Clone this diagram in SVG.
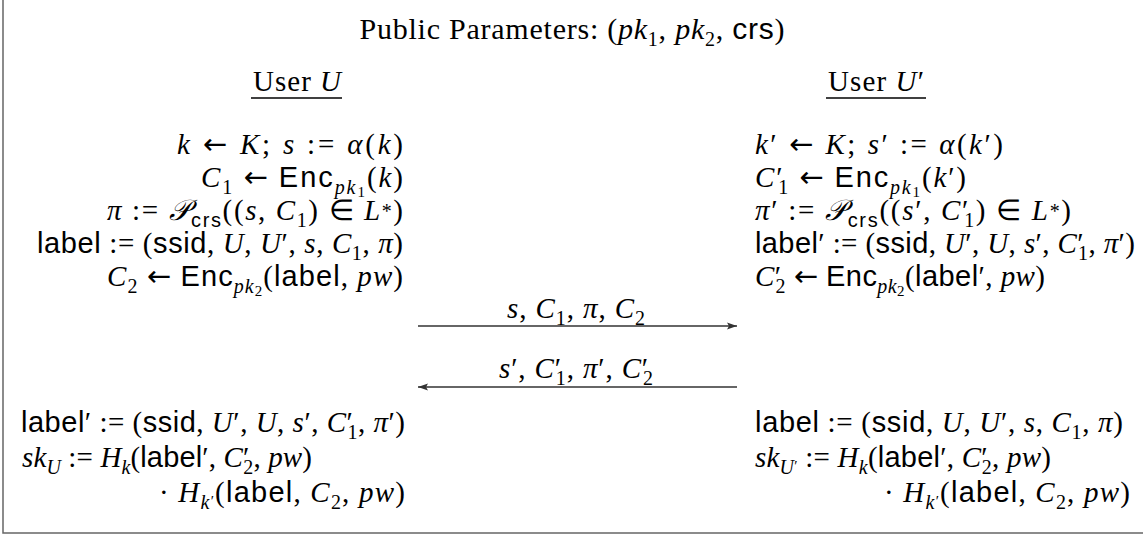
<svg xmlns="http://www.w3.org/2000/svg" width="1143" height="536" viewBox="0 0 1143 536">
<style>
.t{font-family:"Liberation Serif",serif;font-size:29px;fill:#000}
.i{font-style:italic}
.sf{font-family:"Liberation Sans",sans-serif;font-style:normal}
.ar{font-family:"DejaVu Sans",sans-serif;font-style:normal}
.sb{font-size:20px}
.ss{font-size:15px}
.frame{fill:none;stroke:#666;stroke-width:1.5}
.arr{stroke:#333;stroke-width:1.3;fill:none}
.ul{stroke:#000;stroke-width:1.3}
</style>
<defs>
<marker id="ah" viewBox="0 0 10 10" refX="10" refY="5" markerWidth="10" markerHeight="10" markerUnits="userSpaceOnUse" orient="auto-start-reverse"><path d="M0,1.5 L10,5 L0,8.5 L2,5 Z" fill="#333"/></marker>
</defs>
<path class="frame" d="M3,0 V533 H1143"/>
<g id="title"><text class="t" x="572" y="39" text-anchor="middle" style="font-size:30px" textLength="425" lengthAdjust="spacing">Public Parameters: (<tspan class="i">pk</tspan><tspan class="sb" dy="7">1</tspan><tspan dy="-7">, </tspan><tspan class="i">pk</tspan><tspan class="sb" dy="7">2</tspan><tspan dy="-7">, </tspan><tspan class="sf">crs</tspan>)</text></g>
<g id="userU"><text class="t" x="297" y="91" text-anchor="middle" textLength="88" lengthAdjust="spacing">User <tspan class="i">U</tspan></text><line class="ul" x1="251" y1="98" x2="342" y2="98"/></g>
<g id="userU2"><text class="t" x="876" y="91" text-anchor="middle" textLength="96" lengthAdjust="spacing">User <tspan class="i">U</tspan>′</text><line class="ul" x1="826" y1="98" x2="926" y2="98"/></g>
<g id="left-top">
<text class="t" x="403" y="154" text-anchor="end" textLength="226" lengthAdjust="spacing"><tspan class="i">k</tspan> <tspan class="ar">←</tspan> <tspan class="i">K</tspan>; <tspan class="i">s</tspan> := <tspan class="i">α</tspan>(<tspan class="i">k</tspan>)</text>
<text class="t" x="403" y="187" text-anchor="end" textLength="202" lengthAdjust="spacing"><tspan class="i">C</tspan><tspan class="sb" dy="7">1</tspan><tspan dy="-7"> </tspan><tspan class="ar">←</tspan> <tspan class="sf">Enc</tspan><tspan class="sb i" dy="7">pk</tspan><tspan class="ss" dy="3">1</tspan><tspan dy="-10">(</tspan><tspan class="i">k</tspan>)</text>
<text class="t" x="403" y="220" text-anchor="end" textLength="296" lengthAdjust="spacing"><tspan class="i">π</tspan> := <tspan class="i">𝒫</tspan><tspan class="sb sf" dy="7">crs</tspan><tspan dy="-7">((</tspan><tspan class="i">s</tspan>, <tspan class="i">C</tspan><tspan class="sb" dy="7">1</tspan><tspan dy="-7">) ∈ </tspan><tspan class="i">L</tspan><tspan class="sb" dy="-2">*</tspan><tspan dy="2">)</tspan></text>
<text class="t" x="403" y="253" text-anchor="end" textLength="366" lengthAdjust="spacing"><tspan class="sf">label</tspan> := (<tspan class="sf">ssid</tspan>, <tspan class="i">U</tspan>, <tspan class="i">U</tspan>′, <tspan class="i">s</tspan>, <tspan class="i">C</tspan><tspan class="sb" dy="7">1</tspan><tspan dy="-7">, </tspan><tspan class="i">π</tspan>)</text>
<text class="t" x="403" y="286" text-anchor="end" textLength="296" lengthAdjust="spacing"><tspan class="i">C</tspan><tspan class="sb" dy="7">2</tspan><tspan dy="-7"> </tspan><tspan class="ar">←</tspan> <tspan class="sf">Enc</tspan><tspan class="sb i" dy="7">pk</tspan><tspan class="ss" dy="3">2</tspan><tspan dy="-10">(</tspan><tspan class="sf">label</tspan>, <tspan class="i">pw</tspan>)</text>
</g>
<g id="right-top">
<text class="t" x="755" y="154" textLength="248" lengthAdjust="spacing"><tspan class="i">k</tspan>′ <tspan class="ar">←</tspan> <tspan class="i">K</tspan>; <tspan class="i">s</tspan>′ := <tspan class="i">α</tspan>(<tspan class="i">k</tspan>′)</text>
<text class="t" x="755" y="187" textLength="211" lengthAdjust="spacing"><tspan class="i">C</tspan>′<tspan class="sb" dx="-6" dy="7">1</tspan><tspan dy="-7"> </tspan><tspan class="ar">←</tspan> <tspan class="sf">Enc</tspan><tspan class="sb i" dy="7">pk</tspan><tspan class="ss" dy="3">1</tspan><tspan dy="-10">(</tspan><tspan class="i">k</tspan>′)</text>
<text class="t" x="755" y="220" textLength="316" lengthAdjust="spacing"><tspan class="i">π</tspan>′ := <tspan class="i">𝒫</tspan><tspan class="sb sf" dy="7">crs</tspan><tspan dy="-7">((</tspan><tspan class="i">s</tspan>′, <tspan class="i">C</tspan>′<tspan class="sb" dx="-6" dy="7">1</tspan><tspan dy="-7">) ∈ </tspan><tspan class="i">L</tspan><tspan class="sb" dy="-2">*</tspan><tspan dy="2">)</tspan></text>
<text class="t" x="755" y="253" textLength="380" lengthAdjust="spacing"><tspan class="sf">label</tspan>′ := (<tspan class="sf">ssid</tspan>, <tspan class="i">U</tspan>′, <tspan class="i">U</tspan>, <tspan class="i">s</tspan>′, <tspan class="i">C</tspan>′<tspan class="sb" dx="-6" dy="7">1</tspan><tspan dy="-7">, </tspan><tspan class="i">π</tspan>′)</text>
<text class="t" x="755" y="286" textLength="290" lengthAdjust="spacing"><tspan class="i">C</tspan>′<tspan class="sb" dx="-6" dy="7">2</tspan><tspan dy="-7"> </tspan><tspan class="ar">←</tspan> <tspan class="sf">Enc</tspan><tspan class="sb i" dy="7">pk</tspan><tspan class="ss" dy="3">2</tspan><tspan dy="-10">(</tspan><tspan class="sf">label</tspan>′, <tspan class="i">pw</tspan>)</text>
</g>
<g id="connectors">
<line class="arr" x1="418" y1="326" x2="737" y2="326" marker-end="url(#ah)"/>
<text class="t" x="576" y="318" text-anchor="middle" textLength="138" lengthAdjust="spacing"><tspan class="i">s</tspan>, <tspan class="i">C</tspan><tspan class="sb" dy="7">1</tspan><tspan dy="-7">, </tspan><tspan class="i">π</tspan>, <tspan class="i">C</tspan><tspan class="sb" dy="7">2</tspan></text>
<line class="arr" x1="737" y1="387" x2="418" y2="387" marker-end="url(#ah)"/>
<text class="t" x="576" y="378" text-anchor="middle" textLength="154" lengthAdjust="spacing"><tspan class="i">s</tspan>′, <tspan class="i">C</tspan>′<tspan class="sb" dx="-6" dy="7">1</tspan><tspan dy="-7">, </tspan><tspan class="i">π</tspan>′, <tspan class="i">C</tspan>′<tspan class="sb" dx="-6" dy="7">2</tspan></text>
</g>
<g id="left-bottom">
<text class="t" x="405" y="432" text-anchor="end" textLength="384" lengthAdjust="spacing"><tspan class="sf">label</tspan>′ := (<tspan class="sf">ssid</tspan>, <tspan class="i">U</tspan>′, <tspan class="i">U</tspan>, <tspan class="i">s</tspan>′, <tspan class="i">C</tspan>′<tspan class="sb" dx="-6" dy="7">1</tspan><tspan dy="-7">, </tspan><tspan class="i">π</tspan>′)</text>
<text class="t" x="22" y="467" textLength="290" lengthAdjust="spacing"><tspan class="i">sk</tspan><tspan class="sb i" dy="7">U</tspan><tspan dy="-7"> := </tspan><tspan class="i">H</tspan><tspan class="sb i" dy="7">k</tspan><tspan dy="-7">(</tspan><tspan class="sf">label</tspan>′, <tspan class="i">C</tspan>′<tspan class="sb" dx="-6" dy="7">2</tspan><tspan dy="-7">, </tspan><tspan class="i">pw</tspan>)</text>
<text class="t" x="405" y="502" text-anchor="end" textLength="246" lengthAdjust="spacing">· <tspan class="i">H</tspan><tspan class="sb i" dy="7">k</tspan><tspan class="ss" dy="-3">′</tspan><tspan dy="-4">(</tspan><tspan class="sf">label</tspan>, <tspan class="i">C</tspan><tspan class="sb" dy="7">2</tspan><tspan dy="-7">, </tspan><tspan class="i">pw</tspan>)</text>
</g>
<g id="right-bottom">
<text class="t" x="755" y="432" textLength="368" lengthAdjust="spacing"><tspan class="sf">label</tspan> := (<tspan class="sf">ssid</tspan>, <tspan class="i">U</tspan>, <tspan class="i">U</tspan>′, <tspan class="i">s</tspan>, <tspan class="i">C</tspan><tspan class="sb" dy="7">1</tspan><tspan dy="-7">, </tspan><tspan class="i">π</tspan>)</text>
<text class="t" x="755" y="467" textLength="296" lengthAdjust="spacing"><tspan class="i">sk</tspan><tspan class="sb i" dy="7">U</tspan><tspan class="ss" dy="-3">′</tspan><tspan dy="-4"> := </tspan><tspan class="i">H</tspan><tspan class="sb i" dy="7">k</tspan><tspan dy="-7">(</tspan><tspan class="sf">label</tspan>′, <tspan class="i">C</tspan>′<tspan class="sb" dx="-6" dy="7">2</tspan><tspan dy="-7">, </tspan><tspan class="i">pw</tspan>)</text>
<text class="t" x="1130" y="502" text-anchor="end" textLength="246" lengthAdjust="spacing">· <tspan class="i">H</tspan><tspan class="sb i" dy="7">k</tspan><tspan class="ss" dy="-3">′</tspan><tspan dy="-4">(</tspan><tspan class="sf">label</tspan>, <tspan class="i">C</tspan><tspan class="sb" dy="7">2</tspan><tspan dy="-7">, </tspan><tspan class="i">pw</tspan>)</text>
</g>
</svg>
